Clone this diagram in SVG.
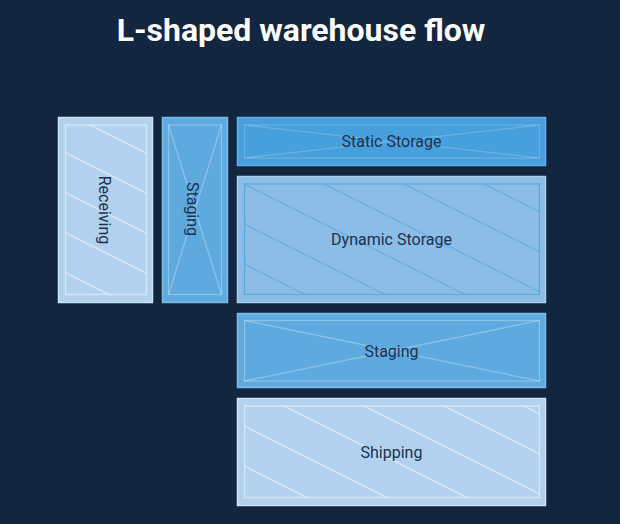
<svg xmlns="http://www.w3.org/2000/svg" width="620" height="524" viewBox="0 0 620 524">
  <style>
    .lbl { font-family: "Roboto", "Liberation Sans", sans-serif; font-size: 16px; fill: #1a3150; text-anchor: middle; dominant-baseline: central; }
    .title { font-family: "Roboto", "Liberation Sans", sans-serif; font-size: 32px; font-weight: bold; fill: #ffffff; text-anchor: middle; }
    .light { fill: #b1d1ee; stroke: #cde2f5; stroke-width: 1.5; }
    .lightIn { fill: none; stroke: #ffffff; stroke-opacity: 0.45; stroke-width: 1.5; }
    .mid { fill: #5eaadf; stroke: #7bbbe8; stroke-width: 1.5; }
    .midIn { fill: none; stroke: #ffffff; stroke-opacity: 0.3; stroke-width: 1.2; }
    .stat { fill: #479fdc; stroke: #5fb0e6; stroke-width: 1.5; }
    .statIn { fill: none; stroke: #ffffff; stroke-opacity: 0.2; stroke-width: 1.2; }
    .dyn { fill: #8bbde6; stroke: #a7cfef; stroke-width: 1.5; }
    .dynIn { fill: none; stroke: #5aaae2; stroke-width: 1.2; }
  </style>
  <defs>
    <pattern id="hRecv" patternUnits="userSpaceOnUse" width="10" height="35.78" patternTransform="translate(90 125) rotate(26.565)">
      <rect x="0" y="-0.75" width="10" height="1.5" fill="#ffffff" fill-opacity="0.5"/>
      <rect x="0" y="35.03" width="10" height="1.5" fill="#ffffff" fill-opacity="0.5"/>
    </pattern>
    <pattern id="hDyn" patternUnits="userSpaceOnUse" width="10" height="35.78" patternTransform="translate(244 184) rotate(26.565)">
      <rect x="0" y="-0.6" width="10" height="1.2" fill="#5aaae2"/>
      <rect x="0" y="35.18" width="10" height="1.2" fill="#5aaae2"/>
    </pattern>
    <pattern id="hShip" patternUnits="userSpaceOnUse" width="10" height="35.78" patternTransform="translate(284 406) rotate(26.565)">
      <rect x="0" y="-0.75" width="10" height="1.5" fill="#ffffff" fill-opacity="0.5"/>
      <rect x="0" y="35.03" width="10" height="1.5" fill="#ffffff" fill-opacity="0.5"/>
    </pattern>
  </defs>

  <rect x="0" y="0" width="620" height="524" fill="#13263f"/>

  <text class="title" x="301" y="41">L-shaped warehouse flow</text>

  <g id="receiving">
    <rect class="light" x="58.5" y="117.5" width="94" height="185"/>
    <rect x="65.5" y="125" width="81" height="169.5" fill="url(#hRecv)"/>
    <rect class="lightIn" x="65.5" y="125" width="81" height="169.5"/>
    <text class="lbl" transform="translate(104.5 210) rotate(90)">Receiving</text>
  </g>

  <g id="staging-vertical">
    <rect class="mid" x="162.5" y="117.5" width="65" height="185"/>
    <rect class="midIn" x="168.5" y="125" width="53" height="169.5"/>
    <path class="midIn" d="M168.5 125 L221.5 294.5 M221.5 125 L168.5 294.5"/>
    <text class="lbl" transform="translate(192.5 209) rotate(90)">Staging</text>
  </g>

  <g id="static-storage">
    <rect class="stat" x="237.5" y="117.5" width="308" height="48"/>
    <rect class="statIn" x="244.5" y="125" width="295" height="33"/>
    <path class="statIn" d="M244.5 125 L539.5 158 M539.5 125 L244.5 158"/>
    <text class="lbl" x="391.5" y="141.5">Static Storage</text>
  </g>

  <g id="dynamic-storage">
    <rect class="dyn" x="237.5" y="176.5" width="308" height="126"/>
    <rect x="244.5" y="184" width="295" height="110.5" fill="url(#hDyn)"/>
    <rect class="dynIn" x="244.5" y="184" width="295" height="110.5"/>
    <text class="lbl" x="391.5" y="239.5">Dynamic Storage</text>
  </g>

  <g id="staging-horizontal">
    <rect class="mid" x="237.5" y="313.5" width="308" height="74"/>
    <rect class="midIn" x="244.5" y="320.5" width="295" height="60.5"/>
    <path class="midIn" d="M244.5 320.5 L539.5 381 M539.5 320.5 L244.5 381"/>
    <text class="lbl" x="391.5" y="351">Staging</text>
  </g>

  <g id="shipping">
    <rect class="light" x="237.5" y="398.5" width="308" height="107"/>
    <rect x="244.5" y="406" width="295" height="91.5" fill="url(#hShip)"/>
    <rect class="lightIn" x="244.5" y="406" width="295" height="91.5"/>
    <text class="lbl" x="391.5" y="452">Shipping</text>
  </g>

  <g id="connectors"/>
</svg>
